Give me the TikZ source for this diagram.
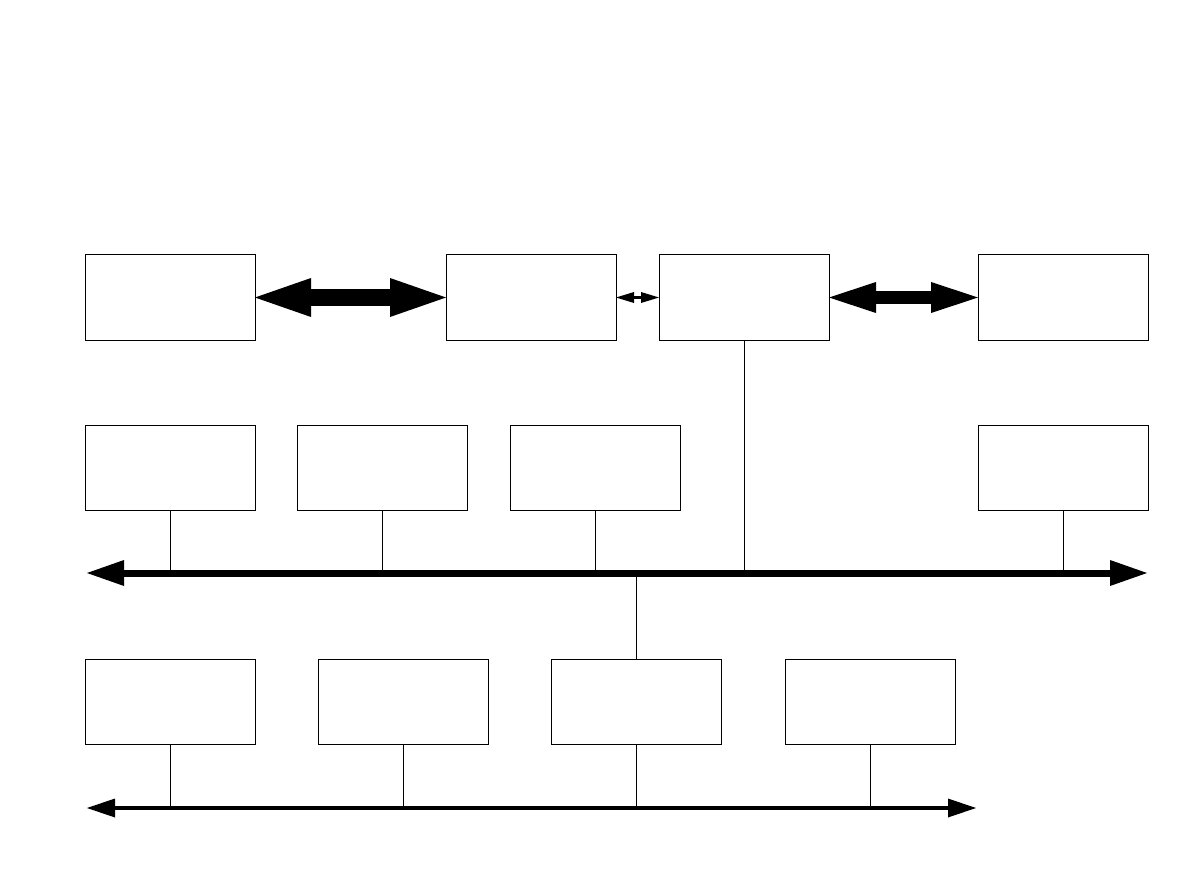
\documentclass[tikz,border=0pt]{standalone}
\usepackage{tikz}
\usetikzlibrary{arrows.meta,positioning,calc}
\usepackage{xcolor}

\begin{document}
\begin{tikzpicture}[x=1pt, y=-1pt, font=\scriptsize, >=Triangle,
    unit/.style={draw, line width=1pt, inner sep=0pt, outer sep=0pt, minimum width=170pt, minimum height=85pt},
    bigarrow/.style={line width=17pt, {Triangle[length=56pt, width=39pt, line width=0pt]}-{Triangle[length=56pt, width=39pt, line width=0pt]}},
    midarrow/.style={line width=13pt, {Triangle[length=47pt, width=31pt, line width=0pt]}-{Triangle[length=47pt, width=31pt, line width=0pt]}},
    tinyarrow/.style={line width=2.5pt, {Triangle[length=18pt, width=11pt, line width=0pt]}-{Triangle[length=18pt, width=11pt, line width=0pt]}},
    mainbus/.style={line width=7pt, {Triangle[length=37pt, width=26pt, line width=0pt]}-{Triangle[length=37pt, width=26pt, line width=0pt]}},
    subbus/.style={line width=4pt, {Triangle[length=28pt, width=19pt, line width=0pt]}-{Triangle[length=28pt, width=19pt, line width=0pt]}},
    tap/.style={line width=1pt}]
    \useasboundingbox (0,0) rectangle (1191,893);

    % top row
    \node[unit] (top1) at (170,297.5) {};
    \node[unit, right=191pt of top1] (top2) {};
    \node[unit, right=43pt of top2] (top3) {};
    \node[unit, right=149pt of top3] (top4) {};

    \draw[bigarrow] (top1.east) -- (top2.west);
    \draw[tinyarrow] (top2.east) -- (top3.west);
    \draw[midarrow] (top3.east) -- (top4.west);

    % middle row
    \node[unit, below=85pt of top1] (mid1) {};
    \node[unit, right=42pt of mid1] (mid2) {};
    \node[unit, right=43pt of mid2] (mid3) {};
    \node[unit, below=85pt of top4] (mid4) {};

    \coordinate (busl) at (87,573);
    \coordinate (busr) at (1147,573);
    \draw[mainbus] (busl) -- (busr);

    \draw[tap] (mid1.south) -- (mid1 |- busl);
    \draw[tap] (mid2.south) -- (mid2 |- busl);
    \draw[tap] (mid3.south) -- (mid3 |- busl);
    \draw[tap] (mid4.south) -- (mid4 |- busl);
    \draw[tap] (top3.south) -- (top3 |- busl);

    % bottom row
    \node[unit, below=149pt of mid1] (low1) {};
    \node[unit, right=63pt of low1] (low2) {};
    \node[unit, right=63pt of low2] (low3) {};
    \node[unit, right=64pt of low3] (low4) {};

    \draw[tap] (low3.north) -- (low3 |- busl);

    \coordinate (subl) at (87,808);
    \coordinate (subr) at (976,808);
    \draw[subbus] (subl) -- (subr);

    \draw[tap] (low1.south) -- (low1 |- subl);
    \draw[tap] (low2.south) -- (low2 |- subl);
    \draw[tap] (low3.south) -- (low3 |- subl);
    \draw[tap] (low4.south) -- (low4 |- subl);
\end{tikzpicture}
\end{document}
